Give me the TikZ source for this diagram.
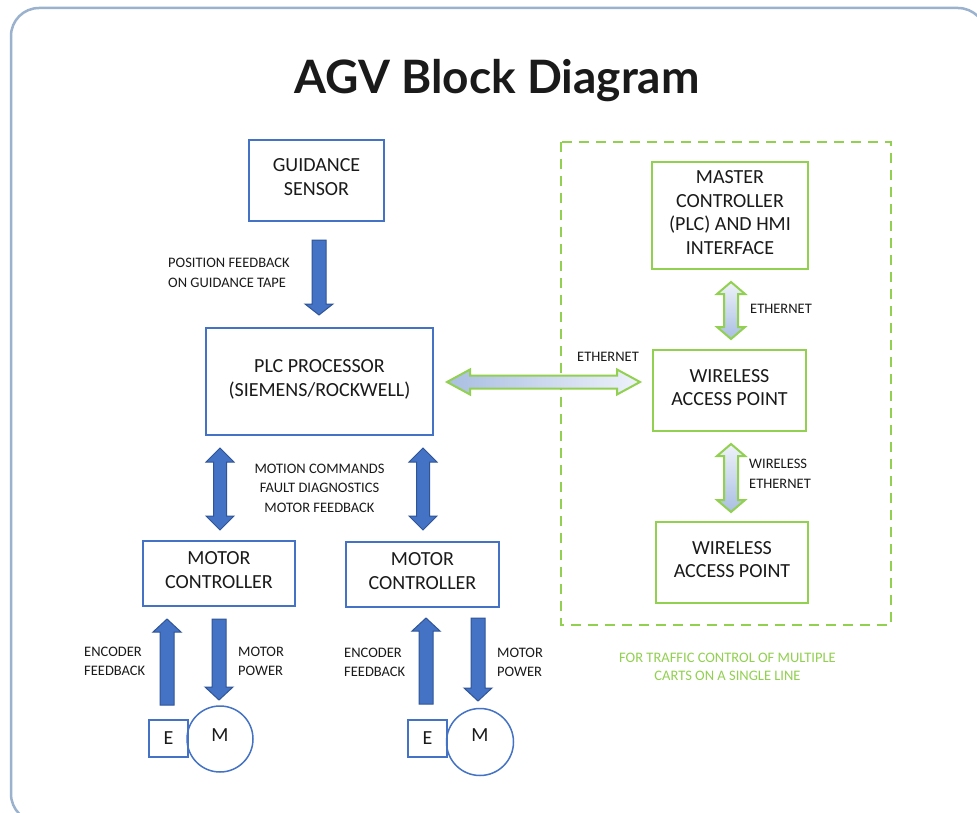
\documentclass[tikz,border=0pt]{standalone}
\usepackage{fontspec}
\setmainfont{Carlito}
\newfontfamily\titlefont{Lato}
\usetikzlibrary{calc}
\definecolor{framec}{HTML}{9AB2CE}
\definecolor{bblue}{HTML}{4472C4}
\definecolor{dblue}{HTML}{2F5597}
\definecolor{lgreen}{HTML}{92D050}
\definecolor{gradA}{HTML}{A9BEE2}
\definecolor{gradB}{HTML}{EEF2FA}
\definecolor{txt}{HTML}{1A1A1A}
% #1 style, #2 shaft half width, #3 head half width, #4 head length, #5 start, #6 tip
\newcommand\arrdown[6]{\path[#1] ($(#5)+(-#2,0)$) -- ($(#5)+(#2,0)$) -- ($(#6)+(#2,-#4)$) -- ($(#6)+(#3,-#4)$) -- (#6) -- ($(#6)+(-#3,-#4)$) -- ($(#6)+(-#2,-#4)$) -- cycle;}
\newcommand\arrup[6]{\path[#1] ($(#5)+(-#2,0)$) -- ($(#5)+(#2,0)$) -- ($(#6)+(#2,#4)$) -- ($(#6)+(#3,#4)$) -- (#6) -- ($(#6)+(-#3,#4)$) -- ($(#6)+(-#2,#4)$) -- cycle;}
\newcommand\arrvv[6]{\path[#1] (#5) -- ($(#5)+(#3,#4)$) -- ($(#5)+(#2,#4)$) -- ($(#6)+(#2,-#4)$) -- ($(#6)+(#3,-#4)$) -- (#6) -- ($(#6)+(-#3,-#4)$) -- ($(#6)+(-#2,-#4)$) -- ($(#5)+(-#2,#4)$) -- ($(#5)+(-#3,#4)$) -- cycle;}
\newcommand\arrhh[6]{\path[#1] (#5) -- ($(#5)+(#4,-#3)$) -- ($(#5)+(#4,-#2)$) -- ($(#6)+(-#4,-#2)$) -- ($(#6)+(-#4,-#3)$) -- (#6) -- ($(#6)+(-#4,#3)$) -- ($(#6)+(-#4,#2)$) -- ($(#5)+(#4,#2)$) -- ($(#5)+(#4,#3)$) -- cycle;}
\begin{document}
\begin{tikzpicture}[x=1pt,y=-1pt,
  bbox/.style={draw=bblue,line width=1.5pt,align=center,inner sep=0pt,text=txt,font=\fontsize{20}{24}\selectfont},
  tbox/.style={bbox,text depth=6pt},
  gbox/.style={draw=lgreen,line width=2pt,align=center,inner sep=0pt,text=txt,text depth=6pt,font=\fontsize{20}{23.5}\selectfont},
  lbl/.style={inner sep=0pt,text=txt,font=\fontsize{14.5}{16}\selectfont},
  glbl/.style={inner sep=0pt,text=lgreen,font=\fontsize{14.5}{16}\selectfont},
  barrow/.style={fill=bblue,draw=dblue,line width=1pt,line join=miter},
  garrowh/.style={draw=lgreen,line width=2pt,left color=gradA,right color=gradB},
  garrowv/.style={draw=lgreen,line width=2pt,top color=gradB,bottom color=gradA},
]
\useasboundingbox (0,0) rectangle (977,813);
\fill[white] (0,0) rectangle (977,813);
\draw[framec,line width=2.5pt,rounded corners=28pt] (11,8) rectangle (986,822);

\node[anchor=base,inner sep=0pt,font=\titlefont\bfseries\fontsize{46}{50}\selectfont,text=txt] (title) at (497,94) {AGV Block Diagram};

% green dashed group
\draw[lgreen,line width=2.5pt,dash pattern=on 10pt off 7pt] (561,142) rectangle (891,625);

% boxes
\node[tbox,minimum width=135,minimum height=81] (gs) at (316.5,180.5) {GUIDANCE\\SENSOR};
\node[tbox,minimum width=227,minimum height=107] (plc) at (319.5,381.5) {PLC PROCESSOR\\(SIEMENS/ROCKWELL)};
\node[tbox,minimum width=152,minimum height=65] (mc1) at (219,573.5) {MOTOR\\CONTROLLER};
\node[tbox,minimum width=153,minimum height=65] (mc2) at (422.5,574.5) {MOTOR\\CONTROLLER};
\node[gbox,minimum width=156,minimum height=107] (master) at (730,215.5) {MASTER\\CONTROLLER\\(PLC) AND HMI\\INTERFACE};
\node[gbox,minimum width=153,minimum height=81] (wap1) at (729.5,390.5) {WIRELESS\\ACCESS POINT};
\node[gbox,minimum width=152,minimum height=81] (wap2) at (732,562.5) {WIRELESS\\ACCESS POINT};

% motors
\node[bbox,minimum width=39,minimum height=37] (e1) at (168.5,738.5) {E};
\node[bbox,circle,minimum size=66,text depth=8pt] (m1) at (220,739) {M};
\node[bbox,minimum width=39,minimum height=37] (e2) at (427.5,738.5) {E};
\node[bbox,circle,minimum size=67,text depth=14pt] (m2) at (480,742) {M};

% arrow end points
\coordinate (gsA) at (319,240);  \coordinate (gsB) at (319,315);
\coordinate (mvA) at (220,448);  \coordinate (mvB) at (220,530);
\coordinate (mwA) at (423,448);  \coordinate (mwB) at (423,530);
\coordinate (enc1A) at (167,705); \coordinate (enc1B) at (167,619);
\coordinate (pow1A) at (219,619); \coordinate (pow1B) at (219,700);
\coordinate (enc2A) at (426,704); \coordinate (enc2B) at (426,618);
\coordinate (pow2A) at (478,618); \coordinate (pow2B) at (478,701);
\coordinate (ethA) at (447,382); \coordinate (ethB) at (640,382);
\coordinate (v1A) at (731,282); \coordinate (v1B) at (731,339);
\coordinate (v2A) at (731,444); \coordinate (v2B) at (731,512);

\arrdown{barrow}{7}{14}{11}{gsA}{gsB}
\arrvv{barrow}{6.5}{14}{14}{mvA}{mvB}
\arrvv{barrow}{6.5}{14}{14}{mwA}{mwB}
\arrup{barrow}{7}{14}{13}{enc1A}{enc1B}
\arrdown{barrow}{7}{14}{13}{pow1A}{pow1B}
\arrup{barrow}{7}{14}{13}{enc2A}{enc2B}
\arrdown{barrow}{7}{14}{13}{pow2A}{pow2B}
\arrhh{garrowh}{6.5}{12.5}{23}{ethA}{ethB}
\arrvv{garrowv}{7}{14}{12}{v1A}{v1B}
\arrvv{garrowv}{7}{14}{12}{v2A}{v2B}

% labels
\node[lbl,anchor=base west] (pf1) at (168,267) {POSITION FEEDBACK};
\node[lbl,anchor=base west] (pf2) at (168,287) {ON GUIDANCE TAPE};
\node[lbl,anchor=base] (mcl1) at (319.5,473) {MOTION COMMANDS};
\node[lbl,anchor=base] (mcl2) at (319.5,492) {FAULT DIAGNOSTICS};
\node[lbl,anchor=base] (mcl3) at (319.5,512) {MOTOR FEEDBACK};
\node[lbl,anchor=base west] (ef1a) at (84,656) {ENCODER};
\node[lbl,anchor=base west] (ef1b) at (84,675) {FEEDBACK};
\node[lbl,anchor=base west] (mp1a) at (238,656) {MOTOR};
\node[lbl,anchor=base west] (mp1b) at (238,675) {POWER};
\node[lbl,anchor=base west] (ef2a) at (344,657) {ENCODER};
\node[lbl,anchor=base west] (ef2b) at (344,676) {FEEDBACK};
\node[lbl,anchor=base west] (mp2a) at (497,657) {MOTOR};
\node[lbl,anchor=base west] (mp2b) at (497,676) {POWER};
\node[lbl,anchor=base west] (ethl) at (577,361) {ETHERNET};
\node[lbl,anchor=base west] (v1l) at (750,313) {ETHERNET};
\node[lbl,anchor=base west] (v2la) at (749,468) {WIRELESS};
\node[lbl,anchor=base west] (v2lb) at (749,488) {ETHERNET};
\node[glbl,anchor=base] (cap1) at (727.5,662) {FOR TRAFFIC CONTROL OF MULTIPLE};
\node[glbl,anchor=base] (cap2) at (727.5,680) {CARTS ON A SINGLE LINE};
\end{tikzpicture}
\end{document}
